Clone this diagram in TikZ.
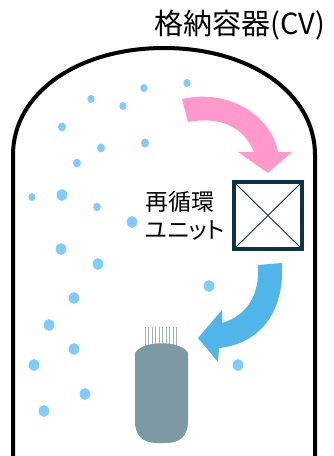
\documentclass[tikz,border=0pt]{standalone}
\usepackage{fontspec}
\usetikzlibrary{calc}
\newfontfamily\jpfont{Noto Sans CJK JP}
\newfontfamily\jppropfont[RawFeature=+palt]{Noto Sans CJK JP}
\definecolor{dotblue}{HTML}{80CCFF}
\definecolor{flowpink}{HTML}{FF99CC}
\definecolor{flowblue}{HTML}{50B5E8}
\definecolor{unitnavy}{HTML}{0E3347}
\definecolor{coregray}{HTML}{7D9AA2}
\definecolor{combgray}{HTML}{9CB2B8}
\tikzset{
  wall/.style={line width=4pt, black},
  aerosol/.style={fill=dotblue, draw=none},
  unitbox/.style={draw=unitnavy, line width=4pt, minimum width=68pt, minimum height=67pt, inner sep=0pt},
  diag/.style={draw=unitnavy, line width=0.9pt},
  lbl/.style={font=\jpfont, inner sep=0pt, text=black}
}
\begin{document}
\begin{tikzpicture}[x=1pt, y=-1pt]
\useasboundingbox (0,0) rectangle (333,456);

% containment vessel: straight walls and domed head
\draw[wall] (13,458) -- (13,155)
  .. controls (13,93) and (78,48) .. (164,48)
  .. controls (250,48) and (315,93) .. (315,155) -- (315,458);

\node[lbl, font=\jpfont\fontsize{29}{31}\selectfont] (title) at (240,25) {格納容器(CV)};

% airborne particles
\foreach \x/\y/\r in {187/83/3.6, 144/88/3.6, 91/99/3.6, 123/106/3.6, 62/127/4,
  101/148/4, 145/143/4, 77/163/4, 32/197/3.6, 62/195/5.3, 97/207/3.8,
  132/222/5.3, 61/249/5.3, 98/264/5.3, 74/298/5.3, 49/325/5.3, 74/349/5.3,
  34/365/5.3, 85/394/5.3, 44/411/5.3, 209/286/5.3, 238/365/5.3}
  \fill[aerosol] (\x,\y) ellipse [x radius=\r, y radius=1.12*\r];

% pink flow towards the recirculation unit
\fill[flowpink] (182,99) .. controls (232,88) and (272,118) .. (278,152)
  -- (292,152) -- (268,173) -- (238,152) -- (254,152)
  .. controls (244,126) and (218,116) .. (188,122) -- cycle;

% recirculation unit
\node[unitbox] (unit) at (268,215.5) {};
\draw[diag] ($(unit.north west)+(2,2)$) -- ($(unit.south east)+(-2,-2)$);
\draw[diag] ($(unit.north east)+(-2,2)$) -- ($(unit.south west)+(2,-2)$);
\node[lbl, align=left, font=\jppropfont\fontsize{23}{28}\selectfont, anchor=west] (lab) at (145,216) {再循環\\ユニット};

% blue flow back towards the core
\fill[flowblue] (282,263) .. controls (285,320) and (252,345) .. (219,348)
  -- (218,362) -- (198,338) -- (222,310) -- (222,323)
  .. controls (246,316) and (260,296) .. (258,265) -- cycle;

% core with its comb of rods
\foreach \i in {0,...,9}
  \draw[combgray, line width=1pt] ({145+3.5*\i},327) -- ({145+3.5*\i},348);
\fill[coregray] (135,353) .. controls (142,340) and (181,340) .. (188,353)
  -- (188,421) .. controls (188,436) and (180,443) .. (166,443)
  -- (157,443) .. controls (143,443) and (135,436) .. (135,421) -- cycle;
\end{tikzpicture}
\end{document}
